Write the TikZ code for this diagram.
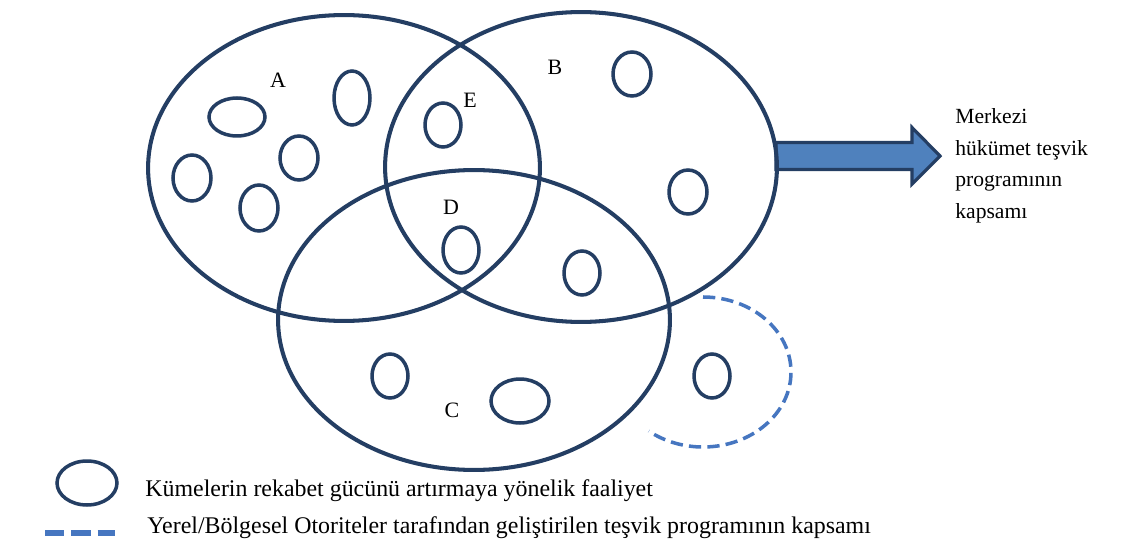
\documentclass[tikz,border=0pt]{standalone}
\usepackage{fontspec}
\setmainfont{Liberation Serif}
\usetikzlibrary{shapes.geometric}
\definecolor{navy}{RGB}{36,62,99}
\definecolor{steel}{RGB}{79,129,189}
\definecolor{dashblue}{RGB}{70,118,192}
\begin{document}
\begin{tikzpicture}[x=0.02cm,y=-0.02cm,
  bigset/.style={ellipse,draw=navy,line width=2.3pt,inner sep=0pt},
  act/.style={ellipse,draw=navy,line width=2pt,inner sep=0pt},
  sz/.style 2 args={minimum width=#1*0.04cm,minimum height=#2*0.04cm},
  lbl/.style={font=\fontsize{12.5}{14}\selectfont,inner sep=0pt},
  txt/.style={font=\fontsize{13.6}{16}\selectfont,inner sep=0pt},
  regscope/.style={dashblue,line width=2pt,dash pattern=on 7pt off 3.5pt}]
\useasboundingbox (0,0) rectangle (1131,547);
% arrow (behind set B)
\coordinate (abase) at (776,156);
\coordinate (atip) at (940,156);
\draw[navy,line width=1.8pt,fill=steel,line join=miter]
  (abase) ++(0,-13.5) -- ++(136,0) -- ++(0,-15) -- (atip)
  -- ++(-28,28) -- ++(0,-14.5) -- ++(-136,0) -- cycle;
% big sets
\node[bigset,sz={196}{153}] (A) at (344,168) {};
\node[bigset,sz={196}{155}] (B) at (581,167) {};
\node[bigset,sz={196}{150}] (C) at (474,320) {};
% activities
\node[act,sz={28}{19}] (a1) at (237,117) {};
\node[act,sz={18}{27}] (a2) at (352,98) {};
\node[act,sz={19}{22}] (a3) at (299,158) {};
\node[act,sz={19}{23}] (a4) at (192,178) {};
\node[act,sz={19}{23}] (a5) at (259,208) {};
\node[act,sz={18}{22}] (a6) at (443,125) {};
\node[act,sz={19}{22}] (a7) at (632,74) {};
\node[act,sz={19}{22}] (a8) at (688,192) {};
\node[act,sz={18}{23}] (a9) at (461,250) {};
\node[act,sz={18}{22}] (a10) at (582,273) {};
\node[act,sz={18}{22}] (a11) at (390,376) {};
\node[act,sz={29}{22}] (a12) at (520,401) {};
\node[act,sz={18}{22}] (a13) at (712,376) {};
% regional scope
\coordinate (rs) at (703,297);
\draw[regscope] (rs) arc[start angle=90,end angle=-128,x radius=88*0.02cm,y radius=75*0.02cm];
% labels
\node[lbl] (lA) at (278,80) {A};
\node[lbl] (lB) at (555,67) {B};
\node[lbl] (lE) at (470,100) {E};
\node[lbl] (lD) at (451,207) {D};
\node[lbl] (lC) at (452,410) {C};
% central programme text
\node[inner sep=0pt,anchor=north west,align=left,font=\fontsize{12.3}{18.1}\selectfont] (mk) at (955,108)
  {Merkezi\\hükümet teşvik\\programının\\kapsamı};
% legend
\node[act,sz={30}{22}] (lg1) at (87,483) {};
\node[txt,anchor=base west] (lt1) at (145,496) {Kümelerin rekabet gücünü artırmaya yönelik faaliyet};
\coordinate (ld1) at (45,533);
\coordinate (ld2) at (115,533);
\draw[dashblue,line width=3pt,dash pattern=on 11pt off 4pt] (ld1) -- (ld2);
\node[txt,anchor=base west] (lt2) at (147,533) {Yerel/Bölgesel Otoriteler tarafından geliştirilen teşvik programının kapsamı};
\end{tikzpicture}
\end{document}
